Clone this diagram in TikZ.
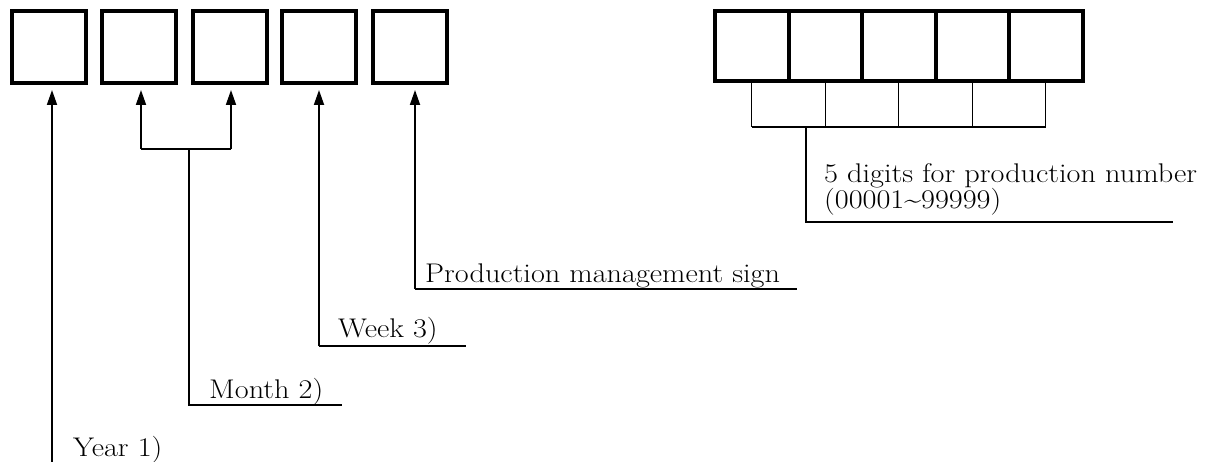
\documentclass[tikz,border=0pt]{standalone}
\usetikzlibrary{arrows.meta}
\newcommand\widetext[1]{\scalebox{1.12}[1]{#1}}
\begin{document}
\begin{tikzpicture}[x=1pt,y=-1pt,
  digit/.style={draw,line width=4pt,minimum width=74pt,minimum height=72pt,inner sep=0pt},
  cell/.style={draw,line width=4pt,minimum width=73.5pt,minimum height=70pt,inner sep=0pt},
  lead/.style={line width=1.8pt},
  thin/.style={line width=1.4pt},
  pointer/.style={lead,-{Triangle[length=15pt,width=10pt]},shorten >=5pt},
  lbl/.style={font=\fontsize{27}{24}\selectfont,inner sep=0pt,anchor=base west,align=left}]
\useasboundingbox (0,0) rectangle (1212,462);
% left boxes
\node[digit] (b1) at (49,47) {};
\node[digit] (b2) at (139,47) {};
\node[digit] (b3) at (230,47) {};
\node[digit] (b4) at (319,47) {};
\node[digit] (b5) at (410,47) {};
% right boxes
\foreach \i/\x in {1/751.75,2/825.25,3/898.75,4/972.25,5/1045.75}
  \node[cell] (r\i) at (\x,46.5) {};
% coordinates
\coordinate (ya) at (52,462);
\coordinate (ma) at (141,149);
\coordinate (mb) at (231,149);
\coordinate (mj) at (189,149);
\coordinate (mc) at (189,405);
\coordinate (me) at (342,405);
\coordinate (wa) at (319,346);
\coordinate (we) at (466,346);
\coordinate (pa) at (415,289);
\coordinate (pe) at (797,289);
\coordinate (rj) at (806,127);
\coordinate (rc) at (806,222);
\coordinate (re) at (1173,222);
% year
\draw[pointer] (ya) -- (ya |- b1.south);
\node[lbl] (yl) at (73,456) {\widetext{Year 1)}};
% month
\draw[pointer] (ma) -- (ma |- b2.south);
\draw[pointer] (mb) -- (mb |- b3.south);
\draw[lead] (ma) -- (mb);
\draw[lead] (mj) -- (mc) -- (me);
\node[lbl] (ml) at (209,398) {\widetext{Month 2)}};
% week
\draw[pointer] (wa) -- (wa |- b4.south);
\draw[lead] (wa) -- (we);
\node[lbl] (wl) at (338,337) {\widetext{Week 3)}};
% production management sign
\draw[pointer] (pa) -- (pa |- b5.south);
\draw[lead] (pa) -- (pe);
\node[lbl] (pl) at (425,282) {\widetext{Production management sign}};
% production number bracket
\foreach \i in {1,...,5}
  \draw[thin] (r\i.south) -- (r\i.south |- rj);
\draw[thin] (r1.south |- rj) -- (r5.south |- rj);
\draw[lead] (rj) -- (rc) -- (re);
\node[lbl] (nl) at (824,209) {\widetext{5 digits for production number}\\\widetext{(00001\textasciitilde 99999)}};
\end{tikzpicture}
\end{document}
